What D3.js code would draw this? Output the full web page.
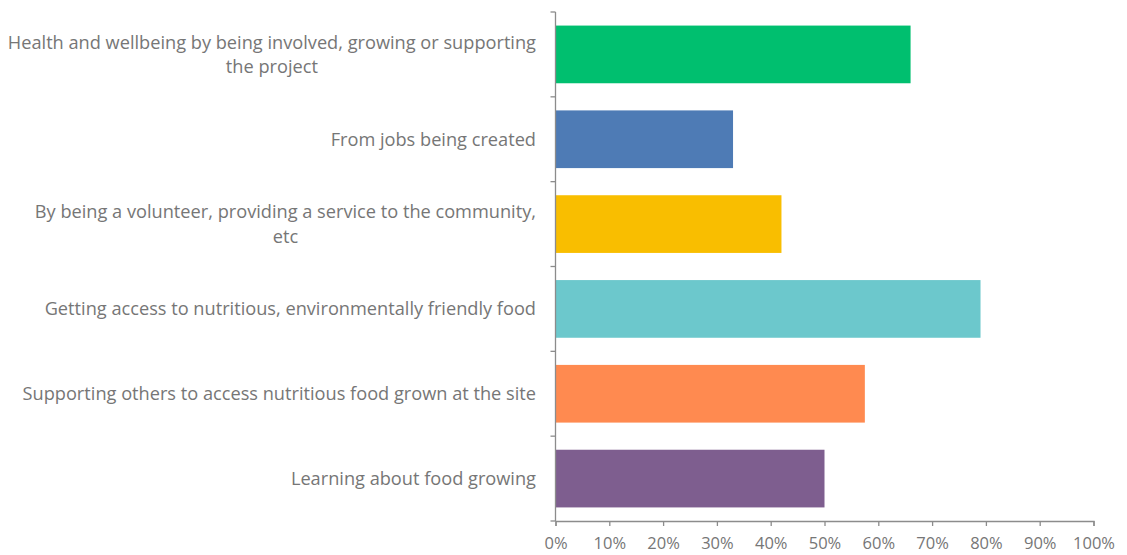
<!DOCTYPE html>
<html>
<head>
<meta charset="utf-8">
<script src="https://cdn.jsdelivr.net/npm/d3@7"></script>
<style>
  html, body { margin: 0; padding: 0; background: #fff; }
  svg { display: block; }
  text { font-family: "Open Sans", Lato, sans-serif; }
</style>
</head>
<body>
<svg id="chart" width="1127" height="555"></svg>
<script>
// Benefits reported, share of respondents (%)
const categories = [
  ["Health and wellbeing by being involved, growing or supporting", "the project"],
  ["From jobs being created"],
  ["By being a volunteer, providing a service to the community,", "etc"],
  ["Getting access to nutritious, environmentally friendly food"],
  ["Supporting others to access nutritious food grown at the site"],
  ["Learning about food growing"]
];
const values = [66, 33, 42, 79, 57.5, 50];
const colors = ["#00bf6f", "#4e7bb5", "#f9be00", "#6cc8cc", "#ff8a50", "#7e5e8f"];
const xTicks = [0, 10, 20, 30, 40, 50, 60, 70, 80, 90, 100];

const svg = d3.select("#chart");
const margin = { left: 555.5, right: 33.5, top: 12, bottom: 34 };
const W = 1127, H = 555;
const axisColor = "#8c8c8c";
const textColor = "#767676";
const labelSize = 18.2;
const tickSize = 16.5;

const x = d3.scaleLinear().domain([0, 100]).range([margin.left, W - margin.right]);
const y = d3.scaleBand()
  .domain(d3.range(categories.length))
  .range([margin.top, H - margin.bottom])
  .paddingInner(0.32)
  .paddingOuter(0.16);

// bars
svg.append("g").selectAll("rect")
  .data(values)
  .join("rect")
  .attr("x", x(0))
  .attr("y", (d, i) => y(i))
  .attr("width", d => x(d) - x(0))
  .attr("height", y.bandwidth())
  .attr("fill", (d, i) => colors[i]);

// category axis (left)
const bandStep = y.step();
const yTop = margin.top, yBottom = H - margin.bottom;
const yAxis = svg.append("g");
yAxis.append("line")
  .attr("x1", x(0)).attr("x2", x(0))
  .attr("y1", yTop).attr("y2", yBottom)
  .attr("stroke", axisColor).attr("stroke-width", 1.3);
yAxis.selectAll("line.tick")
  .data(d3.range(categories.length + 1))
  .join("line")
  .attr("class", "tick")
  .attr("x1", x(0) - 5).attr("x2", x(0))
  .attr("y1", i => yTop + i * bandStep)
  .attr("y2", i => yTop + i * bandStep)
  .attr("stroke", axisColor).attr("stroke-width", 1.3);

// category labels: multi-line blocks, lines centred within the block, block right-aligned
const lineH = 24.5;
const labelRight = 536;
const labels = svg.append("g").attr("font-size", labelSize).attr("fill", textColor);
categories.forEach((lines, i) => {
  const cy = y(i) + y.bandwidth() / 2;
  const g = labels.append("g");
  const texts = lines.map((ln, k) => g.append("text")
    .attr("y", cy + (k - (lines.length - 1) / 2) * lineH)
    .attr("dy", "0.35em")
    .text(ln));
  const widths = texts.map(t => t.node().getComputedTextLength());
  const maxW = d3.max(widths);
  const centerX = labelRight - maxW / 2;
  texts.forEach(t => t.attr("x", centerX).attr("text-anchor", "middle"));
});

// value axis (bottom)
const xAxis = svg.append("g").attr("transform", `translate(0,${yBottom})`)
  .call(d3.axisBottom(x).tickValues(xTicks).tickFormat(d => d + "%").tickSize(5).tickPadding(11));
xAxis.select(".domain").attr("stroke", axisColor).attr("stroke-width", 1.3);
xAxis.selectAll(".tick line").attr("stroke", axisColor).attr("stroke-width", 1.3);
xAxis.selectAll(".tick text")
  .attr("fill", textColor)
  .attr("font-size", tickSize)
  .attr("font-family", "'Open Sans', Lato, sans-serif");
</script>
</body>
</html>
